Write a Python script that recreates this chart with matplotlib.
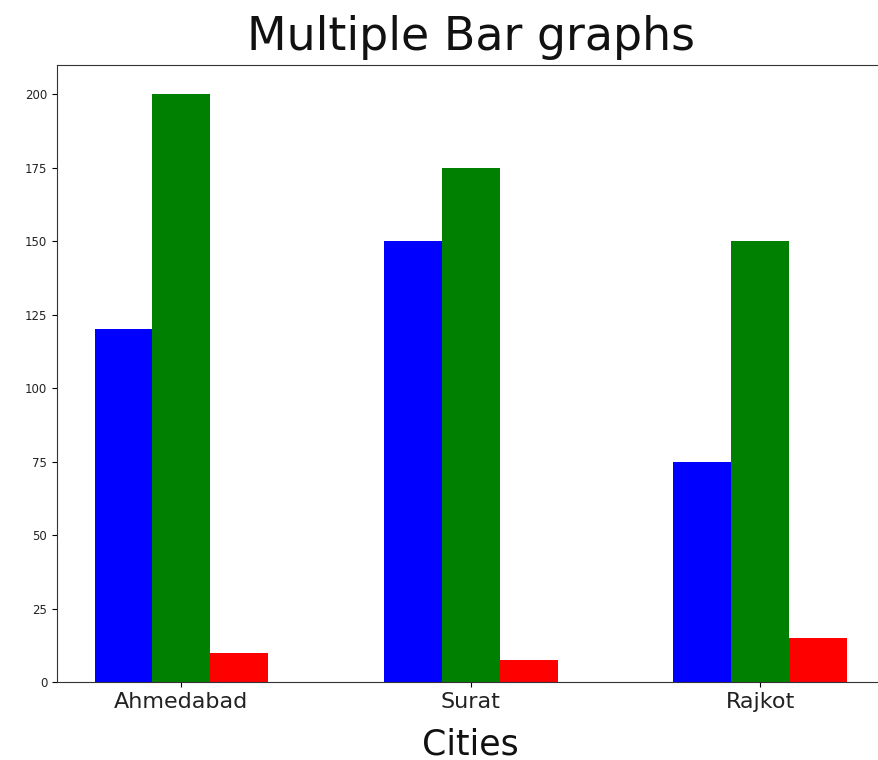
import numpy as np
import matplotlib
matplotlib.use("Agg")
import matplotlib.pyplot as plt

# Данные
cities = ["Ahmedabad", "Surat", "Rajkot"]
blue_vals = [120, 150, 75]
green_vals = [200, 175, 150]
red_vals = [10, 7.5, 15]

x = np.arange(len(cities))
width = 0.2

fig = plt.figure(figsize=(8.79, 7.6), dpi=100)
# правая граница осей выходит за край картинки, как в оригинале
ax = fig.add_axes([0.0648, 0.1026, 0.9415, 0.812])

ax.bar(x - width, blue_vals, width, color='blue')
ax.bar(x, green_vals, width, color='green')
ax.bar(x + width, red_vals, width, color='red')

ax.set_xticks(x)
ax.set_xticklabels(cities, fontsize=16, color='#222222')
ax.tick_params(axis='y', labelsize=8.5, labelcolor='#222222')
ax.set_xlabel('Cities', fontsize=25, labelpad=11, color='#111111')
ax.set_title('Multiple Bar graphs', fontsize=33, pad=11, color='#111111')
for s in ax.spines.values():
    s.set_color('#333333')

plt.savefig('out.png', dpi=100)
